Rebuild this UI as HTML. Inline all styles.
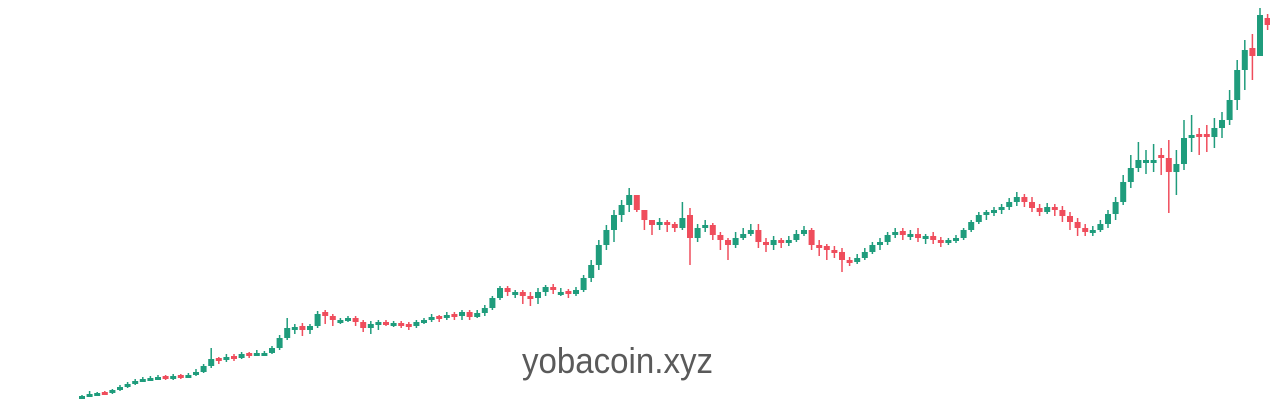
<!DOCTYPE html>
<html><head><meta charset="utf-8"><style>
html,body{margin:0;padding:0;background:#fff;width:1270px;height:402px;overflow:hidden}
svg{display:block}
</style></head><body>
<svg id="chart" width="1270" height="402" viewBox="0 0 1270 402">
<rect width="1270" height="402" fill="#fff"/>
<g id="candles"></g>
<text x="522" y="373" font-family="Liberation Sans, Arial, sans-serif" font-size="36" fill="#5a5a5a" textLength="191" lengthAdjust="spacingAndGlyphs">yobacoin.xyz</text>
</svg>
<script>
const closes = [4,6,7,7,10,13,16,19,21,22,
23,22,24,24,25,28,34,41,40,43,
42,46,45,47,47,52,62,72,73,70,
74,86,84,80,80,82,78,72,76,78,
77,77,76,74,78,80,83,82,85,84,
88,83,87,92,102,112,108,108,104,102,
108,113,110,108,106,110,122,135,155,170,
185,195,205,190,180,175,178,176,172,182,
162,172,175,165,160,155,162,166,170,158,
155,160,158,160,166,170,155,152,150,148,
140,138,142,148,155,158,165,168,165,166,
162,164,160,158,160,162,170,178,185,188,
190,193,198,203,198,192,188,193,190,184,
178,172,168,170,176,186,198,218,232,240,
240,240,242,228,236,262,265,264,263,272,
280,300,330,350,344,385,375];
const opens = [2,4,6,8,7,10,13,16,19,21,
22,24,22,25,24,25,28,34,42,40,
44,42,47,45,46,47,52,62,70,74,
70,74,88,84,79,79,82,78,72,76,
78,76,77,76,74,78,80,84,82,86,
84,88,83,87,92,102,112,106,108,104,
102,108,113,108,109,106,110,122,135,155,
170,185,195,205,190,180,175,178,176,172,
185,162,172,175,165,160,155,162,166,170,
158,155,160,158,160,166,170,155,154,150,
148,140,138,142,148,155,158,165,169,165,
166,162,164,160,158,160,162,170,178,185,
188,190,193,198,203,198,192,188,193,190,
184,178,172,168,170,176,186,198,218,232,
238,237,245,242,228,236,262,266,266,263,
272,280,300,330,352,344,382];
const highs = [5,9,8,9,11,15,18,21,23,24,
25,25,26,26,27,31,36,52,43,46,
46,48,48,50,49,54,65,82,76,77,
76,89,90,86,82,84,84,80,79,80,
80,79,79,78,80,82,86,85,88,88,
90,90,90,95,104,114,114,110,110,108,
112,115,116,112,111,113,125,140,160,175,
190,200,212,198,185,180,182,180,178,198,
192,176,180,177,168,162,168,172,176,176,
162,164,162,164,170,174,172,160,156,154,
152,143,146,152,158,162,168,172,172,170,
172,166,168,163,162,165,172,180,188,190,
193,196,202,208,206,203,196,197,196,194,
188,182,176,174,180,190,203,225,245,258,
250,256,252,260,250,280,285,272,275,282,
288,310,340,360,366,392,386];
const lows = [1,3,4,5,6,9,12,15,18,20,
21,20,20,21,23,24,27,32,36,38,
39,41,42,44,45,46,50,60,66,64,
66,72,76,74,76,78,74,68,66,70,
74,73,72,70,72,76,78,78,80,80,
80,80,82,84,90,100,104,102,96,94,
96,104,106,104,102,104,108,118,130,150,
158,178,188,188,170,165,170,168,168,170,
135,158,168,160,150,140,152,160,164,152,
148,150,152,154,158,164,150,144,140,142,
128,134,136,140,146,150,155,162,160,160,
158,156,156,153,155,157,160,168,176,180,
184,186,190,194,193,188,184,186,184,178,
170,164,164,164,168,172,180,195,212,228,
226,228,225,187,205,230,248,245,248,252,
262,275,290,310,320,350,370];
const UP = '#1f9c7c', DOWN = '#ef4d5c';
const x0 = 82, step = 7.6, bodyW = 6;
function xAt(i){ return x0 + step*i; }
function yAt(p){ return 400 - p; }
const g = document.getElementById('candles');
const NS = 'http://www.w3.org/2000/svg';
for (let i = 0; i < closes.length; i++) {
  const o = opens[i], c = closes[i], h = highs[i], l = lows[i];
  const col = c >= o ? UP : DOWN;
  const cx = xAt(i);
  const grp = document.createElementNS(NS, 'g');
  
  
  const wick = document.createElementNS(NS, 'line');
  
  
  wick.setAttribute('x1', cx); wick.setAttribute('x2', cx);
  wick.setAttribute('y1', yAt(h)); wick.setAttribute('y2', yAt(l));
  wick.setAttribute('stroke', col); wick.setAttribute('stroke-width', '1.5');
  const body = document.createElementNS(NS, 'rect');
  
  
  const top = yAt(Math.max(o, c)), bh = Math.max(3, Math.abs(o - c));
  body.setAttribute('x', cx - bodyW/2); body.setAttribute('y', top);
  body.setAttribute('width', bodyW); body.setAttribute('height', bh);
  body.setAttribute('fill', col);
  grp.appendChild(wick); grp.appendChild(body);
  g.appendChild(grp);
}
</script>
</body></html>
